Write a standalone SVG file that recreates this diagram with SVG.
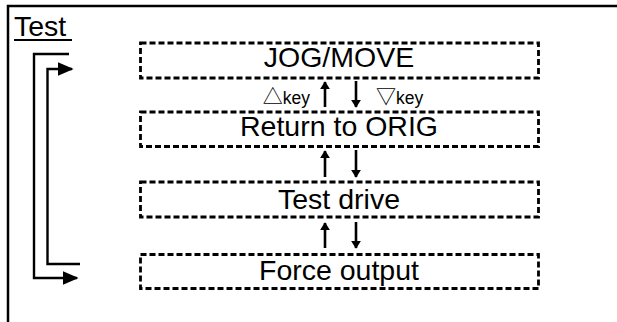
<svg xmlns="http://www.w3.org/2000/svg" width="617" height="322" viewBox="0 0 617 322">
<defs>
<style>
.frame{stroke:#000;stroke-width:2.5;fill:none}
.box{fill:#fff;stroke:#000;stroke-width:2.8;stroke-dasharray:6 3}
.lbl{font-family:"Liberation Sans",Arial,sans-serif;font-size:28.5px;fill:#000;text-anchor:middle}
.key{font-family:"Liberation Sans","Noto Sans CJK JP",sans-serif;font-size:17.5px;fill:#000}
.tri{font-family:"Noto Sans CJK JP",sans-serif;font-size:20px}
.ln{stroke:#000;stroke-width:2.4;fill:none}
.ar{stroke:#000;stroke-width:2.6;fill:none}
</style>
<marker id="head" viewBox="0 0 10 10" refX="9" refY="5" markerWidth="8" markerHeight="10" markerUnits="userSpaceOnUse" orient="auto" preserveAspectRatio="none">
<path d="M0,0 L10,5 L0,10 z" fill="#000"/>
</marker>
<marker id="bighead" viewBox="0 0 10 10" refX="9" refY="5" markerWidth="16" markerHeight="14" markerUnits="userSpaceOnUse" orient="auto" preserveAspectRatio="none">
<path d="M0,0 L10,5 L0,10 z" fill="#000"/>
</marker>
</defs>
<rect width="617" height="322" fill="#fff"/>
<g id="frame">
<path class="frame" d="M8,322 L8,6 L617,6"/>
<text x="14" y="36" font-family="Liberation Sans, Arial, sans-serif" font-size="28.5" fill="#000">Test</text>
<line x1="14" y1="40" x2="72" y2="40" stroke="#000" stroke-width="2"/>
</g>
<g id="node-jog">
<rect class="box" x="140.5" y="43" width="398" height="35"/>
<text class="lbl" x="339" y="67">JOG/MOVE</text>
</g>
<g id="node-orig">
<rect class="box" x="140.5" y="112" width="398" height="34.5"/>
<text class="lbl" x="339" y="135.5">Return to ORIG</text>
</g>
<g id="node-test">
<rect class="box" x="140.5" y="182" width="398" height="35"/>
<text class="lbl" x="339" y="209">Test drive</text>
</g>
<g id="node-force">
<rect class="box" x="140.5" y="254.5" width="398" height="34"/>
<text class="lbl" x="339" y="280">Force output</text>
</g>
<g id="connectors">
<path class="ln" d="M69,54 L34,54 L34,278 L77,278" marker-end="url(#bighead)"/>
<path class="ln" d="M80,264 L47.5,264 L47.5,69 L72,69" marker-end="url(#bighead)"/>
<path class="ar" d="M325,107 L325,82" marker-end="url(#head)"/>
<path class="ar" d="M356,81 L356,107" marker-end="url(#head)"/>
<path class="ar" d="M325,177 L325,151" marker-end="url(#head)"/>
<path class="ar" d="M356,150 L356,177" marker-end="url(#head)"/>
<path class="ar" d="M325,248 L325,223" marker-end="url(#head)"/>
<path class="ar" d="M356,222 L356,248" marker-end="url(#head)"/>
<text class="key" x="310" y="104" text-anchor="end"><tspan class="tri">△</tspan>key</text>
<text class="key" x="376" y="104"><tspan class="tri">▽</tspan>key</text>
</g>
</svg>
